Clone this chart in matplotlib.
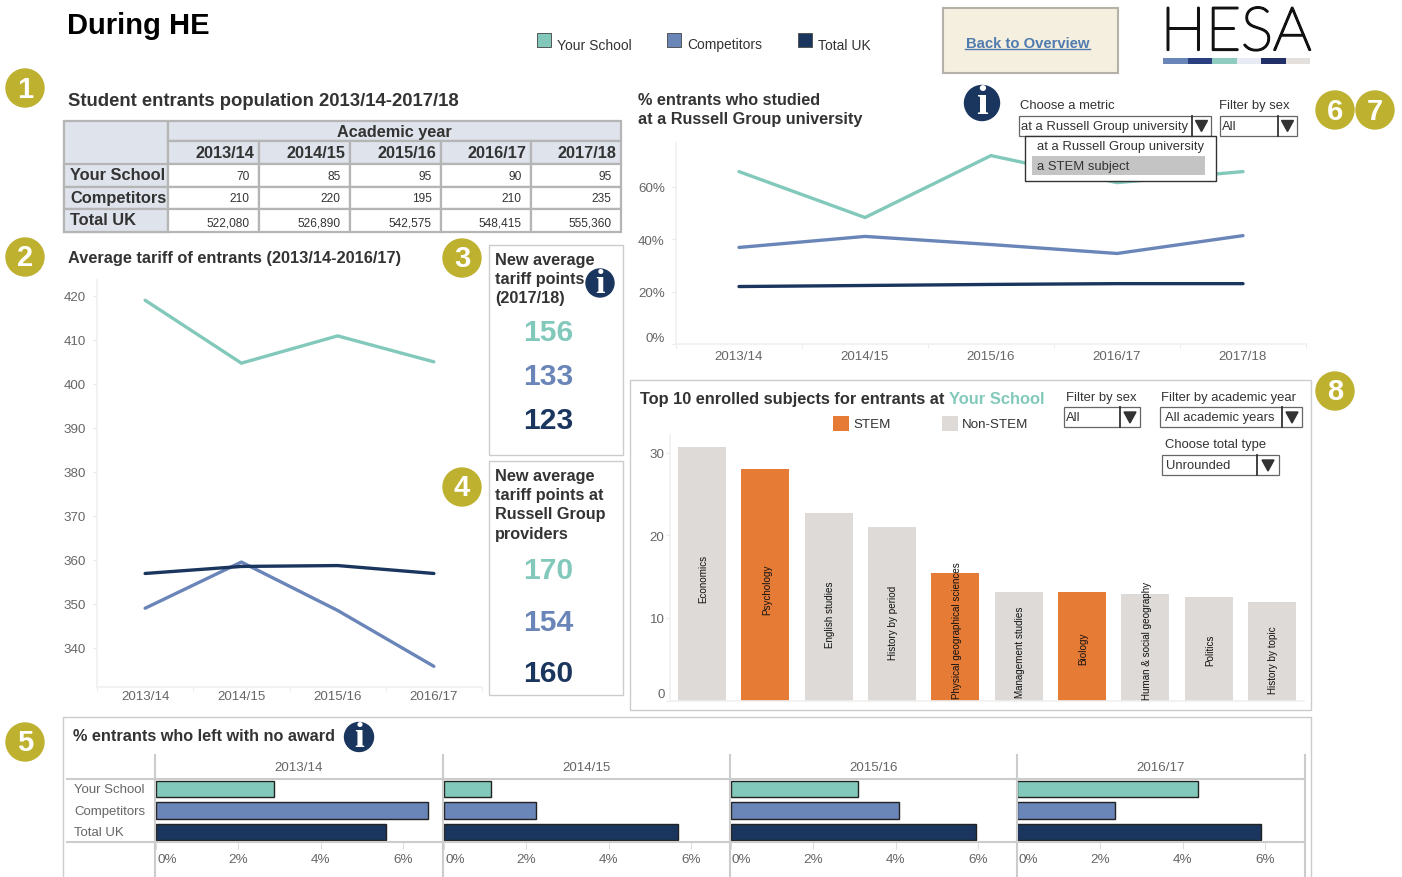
import matplotlib
matplotlib.use('Agg')
import matplotlib.pyplot as plt
import matplotlib.patheffects as pe
from matplotlib.patches import Rectangle, Circle, Polygon
from matplotlib.transforms import ScaledTranslation

plt.rcParams['font.family'] = ['Liberation Sans', 'DejaVu Sans']

# Colours
TEAL = '#82C9BB'
BLUE = '#6A85B8'
NAVY = '#1A365F'
ORANGE = '#E67B36'
LIGHT = '#DDDAD7'
OLIVE = '#BFB130'
TEXT = '#333333'
GREY = '#666666'

# Table
table_years = ['2013/14', '2014/15', '2015/16', '2016/17', '2017/18']
table_rows = ['Your School', 'Competitors', 'Total UK']
school_pop = ['70', '85', '95', '90', '95']
competitor_pop = ['210', '220', '195', '210', '235']
uk_pop = ['522,080', '526,890', '542,575', '548,415', '555,360']

# Average tariff
tariff_years = ['2013/14', '2014/15', '2015/16', '2016/17']
tariff_school = [419, 404.7, 410.9, 405]
tariff_competitors = [349, 359.5, 348.5, 335.8]
tariff_uk = [356.9, 358.5, 358.7, 356.9]

# New tariff points
new_tariff = ['156', '133', '123']
russell_tariff = ['170', '154', '160']

# % at a Russell Group university
russell_school = [65.7, 48.2, 71.8, 61.5, 65.7]
russell_competitors = [36.8, 41, 37.9, 34.5, 41.3]
russell_uk = [21.9, 22.3, 22.7, 23, 23]

# Top 10 subjects
subjects = ['Economics', 'Psychology', 'English studies', 'History by period',
            'Physical geographical sciences', 'Management studies', 'Biology',
            'Human & social geography', 'Politics', 'History by topic']
subject_values = [30.7, 28.1, 22.7, 21, 15.4, 13.2, 13.1, 12.85, 12.5, 11.9]
subject_stem = [False, True, False, False, True, False, True, False, False, False]

# No award
no_award = {
    '2013/14': [2.87, 6.6, 5.58],
    '2014/15': [1.15, 2.25, 5.68],
    '2015/16': [3.09, 4.08, 5.94],
    '2016/17': [4.37, 2.36, 5.9],
}

W, H = 1402, 878
fig = plt.figure(figsize=(W / 100, H / 100), dpi=100)


def px_axes(x0, y0, x1, y1):
    # everything sits 1px lower than the raw coordinates
    return fig.add_axes([x0 / W, 1 - (y1 + 1) / H, (x1 - x0) / W, (y1 - y0) / H], facecolor='none')


def style_axes(ax):
    for side in ['top', 'right']:
        ax.spines[side].set_visible(False)
    for side in ['left', 'bottom']:
        ax.spines[side].set_color('#F0F0F0')
        ax.spines[side].set_linewidth(1.2)
    ax.tick_params(which='both', colors='#E8E8E8', labelcolor=GREY, labelsize=9.6, length=3)


def year_axis(ax, labels, pad):
    # labels in the middle of a band, ticks on the band edges
    n = len(labels)
    ax.set_xticks(range(n), labels)
    ax.set_xticks([i - 0.5 for i in range(n + 1)], minor=True)
    ax.tick_params(axis='x', which='major', length=0, pad=pad)


# Overlay in pixel coordinates for boxes, text and controls
ov = fig.add_axes([0, 0, 1, 1], zorder=10, facecolor='none')
ov.axis('off')


def label(x, y, s, size=9.5, color=TEXT, weight='normal', ha='left', **kw):
    return ov.text(x, y + 0.5, s, fontsize=size, color=color, fontweight=weight, ha=ha, va='center', **kw)


def box(x0, y0, x1, y1, fc='none', ec='#CCCCCC', lw=1.0, **kw):
    ov.add_patch(Rectangle((x0, y0), x1 - x0, y1 - y0, facecolor=fc, edgecolor=ec, linewidth=lw, **kw))


def badge(x, y, s):
    ov.add_patch(Circle((x, y), 19, color=OLIVE))
    label(x, y, s, size=21, color='white', weight='bold', ha='center')


def info(x, y, r):
    ov.add_patch(Circle((x, y), r, color=NAVY))
    ov.text(x, y + 0.5, 'i', fontsize=r * 1.75, color='white', fontweight='bold', family='Liberation Serif',
            ha='center', va='center')


def dropdown(x0, y0, x1, y1, div, s, inset=2):
    box(x0, y0, x1, y1, fc='white', ec='#666666', lw=0.9)
    ov.plot([div, div], [y0, y1], color='#333333', lw=1.3)
    mid = (div + x1) / 2
    ov.add_patch(Polygon([(mid - 6, y0 + 5), (mid + 6, y0 + 5), (mid, y1 - 4)], color='#333333'))
    label(x0 + inset, (y0 + y1) / 2, s, size=9.4)


# Header
label(67, 24, 'During HE', size=21, color='black', weight='bold')
for x, name, col in [(537, 'Your School', TEAL), (667, 'Competitors', BLUE), (798, 'Total UK', NAVY)]:
    box(x, 33, x + 14, 47, fc=col, ec='#555555', lw=0.7)
    label(x + 20, 44, name, size=10)
box(943, 8, 1118, 73, fc='#F5EFE0', ec='#B5B1A8', lw=1.5)
label(1027.5, 42, 'Back to Overview', size=10.7, color='#4F7BAE', weight='bold', ha='center')
ov.plot([965, 1090], [49, 49], color='#4F7BAE', lw=1)
logo = ov.text(1236, 50, 'HESA', fontsize=43.5, color='#111111', family='Lato', fontweight='light',
               ha='center', va='baseline')
logo.set_path_effects([pe.withStroke(linewidth=1.6, foreground='#111111')])
for i, col in enumerate(['#6A85B8', '#2A3F80', '#8FCBBE', '#E8EBF4', '#202F66', '#E2DFDD']):
    ov.add_patch(Rectangle((1163.3 + 24.5 * i, 58), 24.5, 6, color=col, lw=0))

# Population table
badge(25, 88, '1')
label(68, 100, 'Student entrants population 2013/14-2017/18', size=13.35, weight='bold')
col_edges = [168, 259, 350, 441, 531, 621]
row_edges = [163.5, 186.5, 209, 232]
HEAD = '#DFE3EC'
BORDER = '#B5B5B5'
box(64, 120.5, 168, 232, fc=HEAD, ec=BORDER, lw=1.6)
box(168, 120.5, 621, 141, fc=HEAD, ec=BORDER, lw=1.6)
label(394.5, 131, 'Academic year', size=11.7, weight='bold', ha='center')
for j, yr in enumerate(table_years):
    box(col_edges[j], 141, col_edges[j + 1], 163.5, fc=HEAD, ec=BORDER, lw=1.6)
    label(col_edges[j + 1] - 5, 152, yr, size=11.7, weight='bold', ha='right')
for i, (name, vals) in enumerate(zip(table_rows, [school_pop, competitor_pop, uk_pop])):
    box(64, row_edges[i], 168, row_edges[i + 1], fc=HEAD, ec=BORDER, lw=1.6)
    label(70, [174.5, 197, 219.5][i], name, size=11.8, weight='bold')
    for j, v in enumerate(vals):
        box(col_edges[j], row_edges[i], col_edges[j + 1], row_edges[i + 1], fc='white', ec=BORDER, lw=1.6)
        label(col_edges[j + 1] - 9.5, [175, 198, 222.5][i], v, size=8.6, ha='right')

# Average tariff chart
badge(25, 257, '2')
label(68, 257, 'Average tariff of entrants (2013/14-2016/17)', size=11.75, weight='bold')
ax = px_axes(97, 280, 482, 687)
for vals, col in [(tariff_school, TEAL), (tariff_competitors, BLUE), (tariff_uk, NAVY)]:
    ax.plot(range(len(tariff_years)), vals, color=col, lw=2.4, solid_capstyle='round')
ax.set_xlim(-0.5, 3.5)
ax.set_ylim(331.1, 423.6)
ax.set_yticks(range(340, 421, 10))
style_axes(ax)
year_axis(ax, tariff_years, 2)
ax.tick_params(axis='y', pad=5)

# New tariff boxes
badge(462, 258, '3')
box(489, 245, 623, 455)
for y, s in zip([259, 278, 297], ['New average', 'tariff points', '(2017/18)']):
    label(495, y, s, size=11.7, weight='bold')
info(600, 283, 14)
for y, s, col in zip([332, 376, 420], new_tariff, [TEAL, BLUE, NAVY]):
    label(548.5, y, s, size=21.6, color=col, weight='bold', ha='center')
badge(462, 487, '4')
box(489, 461, 623, 695)
for y, s in zip([475, 494, 513, 533], ['New average', 'tariff points at', 'Russell Group', 'providers']):
    label(495, y, s, size=11.7, weight='bold')
for y, s, col in zip([570, 622, 673], russell_tariff, [TEAL, BLUE, NAVY]):
    label(548.5, y, s, size=21.6, color=col, weight='bold', ha='center')

# Russell Group chart
label(638, 99, '% entrants who studied', size=11.7, weight='bold')
label(638, 118, 'at a Russell Group university', size=11.7, weight='bold')
ax = px_axes(676, 143, 1306, 344)
for vals, col in [(russell_school, TEAL), (russell_competitors, BLUE), (russell_uk, NAVY)]:
    ax.plot(range(len(table_years)), vals, color=col, lw=2.4, solid_capstyle='round')
ax.set_xlim(-0.5, 4.5)
ax.set_ylim(0, 76.6)
ax.set_yticks([0, 20, 40, 60], ['0%', '20%', '40%', '60%'])
style_axes(ax)
year_axis(ax, table_years, 4)
ax.tick_params(axis='y', pad=5)
ax.get_yticklabels()[0].set_va('bottom')

info(982, 103, 17.5)
label(1020, 104.5, 'Choose a metric', size=9.4)
label(1219, 104.5, 'Filter by sex', size=9.4)
dropdown(1019, 115.5, 1211, 135.5, 1192, 'at a Russell Group university')
dropdown(1220, 115.5, 1297, 135.5, 1278, 'All')
box(1024.5, 135.5, 1215.5, 180.5, fc='white', ec='#333333', lw=1)
box(1032, 156, 1205, 175, fc='#C4C4C4', ec='none')
label(1037, 145.5, 'at a Russell Group university', size=9.4)
label(1037, 165.5, 'a STEM subject', size=9.4)
badge(1335, 110, '6')
badge(1375, 110, '7')

# Top 10 subjects
badge(1335, 391, '8')
box(630, 380, 1311, 710)
label(640, 398, 'Top 10 enrolled subjects for entrants at', size=11.8, weight='bold')
label(949, 398, 'Your School', size=11.9, color=TEAL, weight='bold')
box(833, 416, 849, 431, fc=ORANGE, ec='none')
label(853, 423.5, 'STEM', size=9.6)
box(942, 416, 958, 431, fc=LIGHT, ec='none')
label(962, 423.5, 'Non-STEM', size=9.6)
label(1066, 397, 'Filter by sex', size=9.4)
dropdown(1064, 407, 1140, 427, 1120, 'All')
label(1161, 397, 'Filter by academic year', size=9.4)
dropdown(1160, 407, 1302, 427, 1282, 'All academic years', inset=5)
label(1165, 444, 'Choose total type', size=9.4)
dropdown(1162, 455, 1279, 475, 1257, 'Unrounded', inset=4)

ax = px_axes(670, 434.5, 1304, 700.5)
ax.bar(range(len(subjects)), subject_values, width=0.758,
       color=[ORANGE if s else LIGHT for s in subject_stem])
ax.set_xlim(-0.505, 9.505)
ax.set_ylim(0, 32.24)
ax.set_yticks([0, 10, 20, 30])
ax.set_xticks([])
style_axes(ax)
ax.tick_params(axis='y', pad=1)
ax.get_yticklabels()[0].set_va('bottom')
for i, (s, y) in enumerate(zip(subjects, [577, 588, 613, 621, 629, 651, 647, 639, 649, 659])):
    label(703.5 + 63.33 * i, y, s, size=7.1, color='#111111', ha='center', rotation=90)

# No award
badge(25, 742, '5')
ov.plot([63, 63, 1311, 1311], [878, 717, 717, 878], color='#CCCCCC', lw=1)
label(73, 735, '% entrants who left with no award', size=11.7, weight='bold')
info(359, 737, 14.5)
panel_left = [155.5, 443.5, 730.5, 1017.5]
for x0, (yr, vals) in zip(panel_left, no_award.items()):
    ax = px_axes(x0, 779, x0 + 287, 842)
    ax.barh(range(3), vals, height=0.78, color=[TEAL, BLUE, NAVY], edgecolor='#222222', linewidth=1)
    ax.set_xlim(0, 287 / 41.3)
    ax.set_ylim(2.47, -0.47)
    ax.set_yticks([])
    ax.set_xticks([0, 2, 4, 6], ['0%', '2%', '4%', '6%'])
    for side in ['top', 'left', 'right', 'bottom']:
        ax.spines[side].set_visible(False)
    ax.tick_params(axis='x', colors='#DDDDDD', labelcolor=GREY, labelsize=9.7, length=5, pad=3)
    first = ax.get_xticklabels()[0]
    first.set_ha('left')
    first.set_transform(first.get_transform() + ScaledTranslation(1.5 / 100, 0, fig.dpi_scale_trans))
    label(x0 + 143.5, 767, yr, size=9.6, color=GREY, ha='center')
for x in [155, 443, 730, 1017, 1305]:
    ov.plot([x, x], [755, 878], color='#CCCCCC', lw=1.5)
for y in [779, 842]:
    ov.plot([67, 1305], [y, y], color='#CCCCCC', lw=1.5)
for y, s in zip([789, 811, 832], table_rows):
    label(74.5, y, s, size=9.5, color=GREY)

# shifted one pixel down to line up with the reference
ov.set_xlim(0, W)
ov.set_ylim(H - 1, -1)
fig.savefig('out.png', dpi=100)
